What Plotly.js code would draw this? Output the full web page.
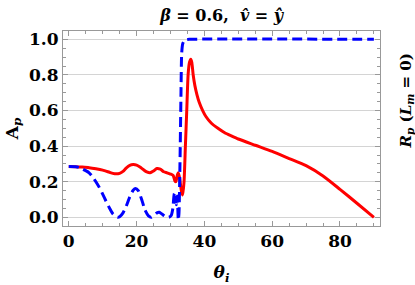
<!DOCTYPE html>
<html>
<head>
<meta charset="utf-8">
<script src="https://cdn.plot.ly/plotly-3.0.1.min.js"></script>
<style>html,body{margin:0;padding:0;background:#fff;}#chart{width:415px;height:285px;}</style>
</head>
<body>
<div id="chart"></div>
<script>
// Red solid curve (A_p)
const redTheta = [0, 2, 4, 6, 8, 10, 12, 13, 14, 15, 16, 17, 18, 19, 20, 21, 22, 23, 24, 25, 26, 27, 28, 29, 30, 30.8, 31.3, 31.6, 32.0, 32.3, 32.7, 33.2, 33.6, 34.0, 34.4, 34.8, 35.2, 35.6, 36.0, 36.3, 36.7, 37.2, 37.8, 38.5, 39.5, 40.5, 42, 44, 46, 48, 50, 55, 60, 65, 70, 75, 80, 85, 90];
const redValue = [0.285, 0.284, 0.282, 0.279, 0.273, 0.265, 0.253, 0.247, 0.244, 0.247, 0.258, 0.278, 0.292, 0.296, 0.293, 0.282, 0.268, 0.255, 0.25, 0.26, 0.274, 0.27, 0.256, 0.25, 0.243, 0.235, 0.205, 0.2, 0.235, 0.25, 0.22, 0.15, 0.125, 0.2, 0.4, 0.6, 0.8, 0.87, 0.888, 0.87, 0.8, 0.74, 0.69, 0.645, 0.6, 0.565, 0.53, 0.5, 0.475, 0.457, 0.44, 0.405, 0.37, 0.33, 0.29, 0.232, 0.157, 0.079, 0.0];
// Blue dashed curve (R_p, L_m = 0)
const blueTheta = [0, 2, 3, 4, 5, 6, 7, 8, 9, 10, 11, 12, 13, 14, 14.5, 15, 16, 17, 18, 19, 19.7, 20.5, 21.5, 22.5, 23.5, 24.3, 25, 26, 26.7, 27.5, 28.5, 29.5, 30.2, 30.7, 31.1, 31.4, 31.7, 32.0, 32.3, 32.5, 32.8, 33.1, 33.3, 33.6, 34.0, 34.6, 35.5, 90];
const blueValue = [0.285, 0.284, 0.28, 0.272, 0.262, 0.25, 0.228, 0.2, 0.168, 0.13, 0.09, 0.052, 0.02, 0.003, 0.0, 0.003, 0.025, 0.065, 0.115, 0.152, 0.162, 0.15, 0.1, 0.04, 0.008, 0.0, 0.008, 0.025, 0.028, 0.018, 0.005, 0.0, 0.01, 0.05, 0.13, 0.14, 0.07, 0.12, -0.015, 0.02, 0.3, 0.7, 0.92, 0.975, 0.99, 0.997, 1.0, 1.0];
// Ticks
const xTicks = [0, 20, 40, 60, 80];
const xTickText = ['0', '20', '40', '60', '80'];
const yTicks = [0, 0.2, 0.4, 0.6, 0.8, 1.0];
const yTickText = ['0.0', '0.2', '0.4', '0.6', '0.8', '1.0'];
const xGrid = [20, 40, 60, 80];

const FONT = 'DejaVu Serif, serif';
const frameColor = '#999999';
const gridColor = '#d4d4d4';

const traces = [
  {x: redTheta, y: redValue, type: 'scatter', mode: 'lines', line: {color: '#ff0000', width: 3, shape: 'spline', smoothing: 0.6}, showlegend: false, hoverinfo: 'skip'},
  {x: blueTheta, y: blueValue, type: 'scatter', mode: 'lines', line: {color: '#0000ff', width: 3, dash: '10px,5px', shape: 'spline', smoothing: 0.6}, showlegend: false, hoverinfo: 'skip'}
];

const xRange = [-1.7, 91.8];
const yRange = [-0.049, 1.047];

const layout = {
  width: 415, height: 285,
  margin: {l: 63, r: 35, t: 31, b: 59, pad: 0},
  paper_bgcolor: '#ffffff', plot_bgcolor: '#ffffff',
  font: {family: FONT, size: 17, color: '#000', weight: 'bold'},
  title: {text: '<i>β</i> = 0.6,\u00a0 <i>v̂</i> = <i>ŷ</i>', font: {family: FONT, size: 16, weight: 'bold'}, x: 0.534, xanchor: 'center', y: 0.947, yanchor: 'middle'},
  xaxis: {
    range: xRange, tickmode: 'array', tickvals: xTicks, ticktext: xTickText,
    tickfont: {family: FONT, size: 17, weight: 'bold'},
    showgrid: false, zeroline: false, showline: true, linecolor: frameColor, linewidth: 1, mirror: 'ticks',
    ticks: 'inside', ticklen: 5, tickcolor: frameColor, tickwidth: 1,
    minor: {dtick: 5, tick0: 0, ticks: 'inside', ticklen: 3, tickcolor: frameColor, showgrid: false},
    title: {text: '<i>θ</i><sub><i>i</i></sub>', font: {family: FONT, size: 17, weight: 'bold'}, standoff: 16}
  },
  xaxis2: {
    range: xRange, overlaying: 'x', tickmode: 'array', tickvals: xGrid, showticklabels: false, ticks: '',
    showgrid: true, gridcolor: gridColor, gridwidth: 1, zeroline: false, showline: false
  },
  yaxis: {
    range: yRange, tickmode: 'array', tickvals: yTicks, ticktext: yTickText,
    tickfont: {family: FONT, size: 17, weight: 'bold'},
    showgrid: true, gridcolor: gridColor, gridwidth: 1, zeroline: false, showline: true, linecolor: frameColor, linewidth: 1, mirror: 'ticks',
    ticks: 'inside', ticklen: 5, tickcolor: frameColor, tickwidth: 1,
    minor: {dtick: 0.05, tick0: 0, ticks: 'inside', ticklen: 3, tickcolor: frameColor, showgrid: false},
    title: {text: 'A<sub><i>p</i></sub>', font: {family: FONT, size: 17, weight: 'bold'}, standoff: 6}
  },
  annotations: [
    {text: '<i>R</i><sub><i>p</i></sub> (<i>L</i><sub><i>m</i></sub> = 0)', xref: 'paper', yref: 'paper', x: 1.083, y: 0.64, xanchor: 'center', yanchor: 'middle', textangle: -90, showarrow: false, font: {family: FONT, size: 15, weight: 'bold', color: '#000'}}
  ]
};

Plotly.newPlot('chart', traces, layout, {staticPlot: true, displayModeBar: false});
</script>
</body>
</html>
